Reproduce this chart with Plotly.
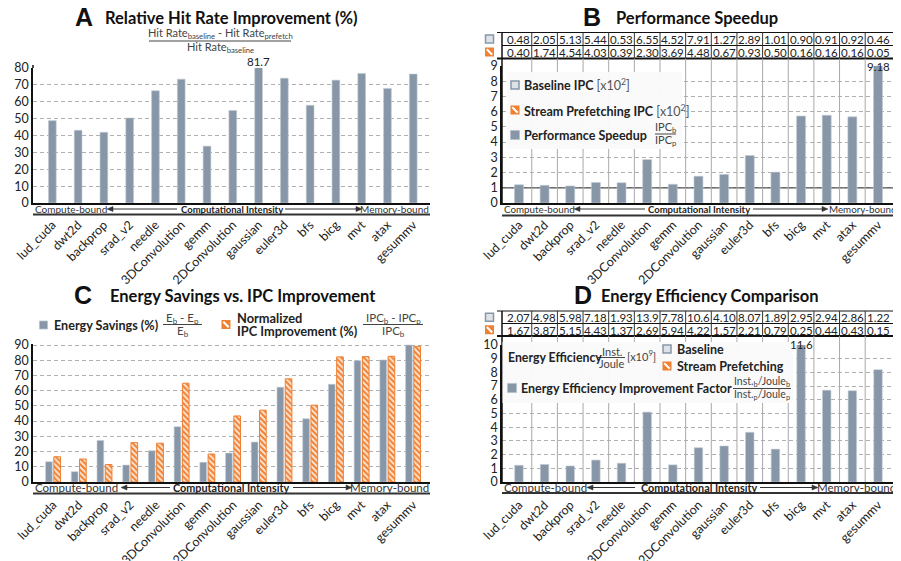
import plotly.graph_objects as go

OFF = 8                     # page body margin of the exported html
W, H = 901 - OFF, 561 - OFF
FONT = "Lato"
GRAY = "#8797a8"
ORANGE = "#ef7f31"
TXT = "#222222"

categories = ["lud_cuda", "dwt2d", "backprop", "srad_v2", "needle", "3DConvolution", "gemm",
              "2DConvolution", "gaussian", "euler3d", "bfs", "bicg", "mvt", "atax", "gesummv"]

hit_rate_improvement = [48.8, 43.1, 41.9, 50.4, 66.5, 73.4, 33.7, 54.8, 81.7, 74.0, 57.9, 72.8, 76.8, 67.9, 76.4]

baseline_ipc = [0.48, 2.05, 5.13, 5.44, 0.53, 6.55, 4.52, 7.91, 1.27, 2.89, 1.01, 0.90, 0.91, 0.92, 0.46]
prefetch_ipc = [0.40, 1.74, 4.54, 4.03, 0.39, 2.30, 3.69, 4.48, 0.67, 0.93, 0.50, 0.16, 0.16, 0.16, 0.05]
speedup = [1.20, 1.16, 1.12, 1.35, 1.33, 2.85, 1.23, 1.76, 1.88, 3.12, 2.03, 5.71, 5.76, 5.66, 9.18]

energy_savings = [13.3, 6.8, 27.3, 11.1, 20.5, 36.3, 12.9, 19.0, 26.2, 62.3, 41.5, 64.2, 79.7, 80.2, 90.0]
ipc_improvement = [16.6, 15.1, 11.5, 25.9, 25.5, 64.9, 18.4, 43.4, 47.2, 67.8, 50.5, 82.2, 82.4, 82.6, 89.1]

ee_baseline = [2.07, 4.98, 5.98, 7.18, 1.93, 13.9, 7.78, 10.6, 4.10, 8.07, 1.89, 2.95, 2.94, 2.86, 1.22]
ee_prefetch = [1.67, 3.87, 5.15, 4.43, 1.37, 2.69, 5.94, 4.22, 1.57, 2.21, 0.79, 0.25, 0.44, 0.43, 0.15]
ee_factor = [1.22, 1.28, 1.17, 1.60, 1.37, 5.10, 1.25, 2.50, 2.63, 3.63, 2.40, 11.6, 6.70, 6.66, 8.20]

idx = list(range(len(categories)))

def fx(x):
    return (x - OFF) / W

def fy(y):
    return 1 - (y - OFF) / H

def fmt(v):
    return f"{v:.1f}" if v >= 10 else f"{v:.2f}"

shapes = []
annotations = []

def ann(x, y, text, size=11, color=TXT, bold=False, xanchor="center", yanchor="middle",
        family=FONT, xref="paper"):
    annotations.append(dict(
        x=(fx(x) if xref == "paper" else x), y=fy(y), xref=xref, yref="paper",
        text=f"<b>{text}</b>" if bold else text, showarrow=False,
        font=dict(size=size, color=color, family=family),
        xanchor=xanchor, yanchor=yanchor, borderpad=0))

def line(x0, y0, x1, y1, color="#222", width=1, xref="paper", layer="above"):
    shapes.append(dict(type="line", xref=xref, yref="paper",
                       x0=(fx(x0) if xref == "paper" else x0), x1=(fx(x1) if xref == "paper" else x1),
                       y0=fy(y0), y1=fy(y1), line=dict(color=color, width=width), layer=layer))

def arrow(x_head, x_tail, y, color="#333"):
    d = 1 if x_tail > x_head else -1
    line(x_head + d * 4, y, x_tail, y, color, 1)
    path = (f"M {fx(x_head)},{fy(y)} L {fx(x_head + d * 6)},{fy(y - 2.6)} "
            f"L {fx(x_head + d * 6)},{fy(y + 2.6)} Z")
    shapes.append(dict(type="path", xref="paper", yref="paper", path=path,
                       fillcolor=color, line=dict(color=color, width=0.5), layer="above"))

def rect(x0, y0, x1, y1, fill, lcolor=None, lwidth=0, layer="above"):
    shapes.append(dict(type="rect", xref="paper", yref="paper", x0=fx(x0), x1=fx(x1),
                       y0=fy(y1), y1=fy(y0), fillcolor=fill, layer=layer,
                       line=dict(color=lcolor or fill, width=lwidth)))

def icon_base(cx, cy, s=8):
    rect(cx - s / 2, cy - s / 2, cx + s / 2, cy + s / 2, "#dfe3e8", GRAY, 1.5)

def icon_stream(cx, cy, s=9):
    rect(cx - s / 2, cy - s / 2, cx + s / 2, cy + s / 2, ORANGE)
    line(cx - s / 2 + 1.8, cy - s / 2 + 1.8, cx + s / 2 - 1.8, cy + s / 2 - 1.8, "white", 2)

def icon_gray(cx, cy, s=9):
    rect(cx - s / 2, cy - s / 2, cx + s / 2, cy + s / 2, GRAY, "#b7c0ca", 0.8)

def frac(cx, ytop, ybot, yline, num, den, half, size=11, color="#444"):
    ann(cx, ytop, num, size=size, color=color)
    ann(cx, ybot, den, size=size, color=color)
    line(cx - half, yline, cx + half, yline, color, 1)

def band(x0, x1, y_text, y_line, size, bsize, pos):
    # pos: (arrow1_head, arrow1_tail, center, arrow2_tail, arrow2_head)
    ann(x0 + 1, y_text, "Compute-bound", size=size, color="#333", xanchor="left")
    arrow(pos[0], pos[1], y_text)
    ann(pos[2], y_text, "Computational Intensity", size=bsize, bold=True, color=TXT)
    arrow(pos[4], pos[3], y_text)
    ann(x1, y_text, "Memory-bound", size=size, color="#333", xanchor="right")
    line(x0, y_line, x1, y_line, "#333", 2)

def data_label(xref, i, y, text, size=11.5):
    annotations.append(dict(x=i, y=fy(y), xref=xref, yref="paper", text=text, showarrow=False,
                            xanchor="center", yanchor="middle", borderpad=0,
                            font=dict(family=FONT, size=size, color=TXT)))

fig = go.Figure()

bar_line = dict(color="#c3cbd3", width=0.6)

# Panel A
fig.add_trace(go.Bar(x=idx, y=hit_rate_improvement, width=0.3, marker=dict(color=GRAY, line=bar_line),
                     xaxis="x", yaxis="y", showlegend=False))
# Panel B
fig.add_trace(go.Bar(x=idx, y=speedup, width=0.35, marker=dict(color=GRAY, line=bar_line),
                     xaxis="x2", yaxis="y2", showlegend=False))
# Panel C
fig.add_trace(go.Bar(x=idx, y=energy_savings, width=0.26, offset=-0.29,
                     marker=dict(color=GRAY, line=bar_line), xaxis="x3", yaxis="y3", showlegend=False))
fig.add_trace(go.Bar(x=idx, y=ipc_improvement, width=0.26, offset=0.03,
                     marker=dict(color="#fde6d3", line=dict(color=ORANGE, width=1),
                                 pattern=dict(shape="\\", fgcolor=ORANGE, bgcolor="#fde6d3",
                                              size=4, solidity=0.5)),
                     xaxis="x3", yaxis="y3", showlegend=False))
# Panel D
fig.add_trace(go.Bar(x=idx, y=ee_factor, width=0.33, marker=dict(color=GRAY, line=bar_line),
                     xaxis="x4", yaxis="y4", showlegend=False))

# geometry (page pixels)
LA, RA = 33, 430
LB, RB = 502, 897
T_A, T_B, B_AB = 68, 66, 203
T_CD, B_CD = 345, 482

xcommon = dict(tickvals=idx, ticktext=categories, tickangle=-45, showline=True, linecolor="#111",
               linewidth=1.5, ticks="", showgrid=False, zeroline=False, automargin=False,
               tickfont=dict(family=FONT, size=12.5, color=TXT))
ycommon = dict(showline=True, linecolor="#111", linewidth=1.5, ticks="", zeroline=False,
               showgrid=True, gridcolor="#b0b0b0", griddash="4px,3px", gridwidth=1, automargin=False,
               tickfont=dict(family=FONT, size=12.5, color=TXT))

layout = dict(
    template="none",
    width=W, height=H, autosize=False, margin=dict(l=0, r=0, t=0, b=0, pad=0),
    paper_bgcolor="white", plot_bgcolor="white", barmode="overlay", showlegend=False,
    font=dict(family=FONT, color=TXT),
    xaxis=dict(domain=[fx(LA), fx(RA)], range=[-0.75, 14.65], anchor="y", ticklabelstandoff=8, **xcommon),
    yaxis=dict(domain=[fy(B_AB), fy(T_A)], range=[0, 80], dtick=10, anchor="x", **ycommon),
    xaxis2=dict(domain=[fx(LB), fx(RB)], range=[-0.66, 14.74], anchor="y2", ticklabelstandoff=8, **xcommon),
    yaxis2=dict(domain=[fy(B_AB), fy(T_B)], range=[0, 9], dtick=1, anchor="x2", **ycommon),
    xaxis3=dict(domain=[fx(LA), fx(RA)], range=[-0.78, 14.66], anchor="y3", ticklabelstandoff=9, **xcommon),
    yaxis3=dict(domain=[fy(B_CD), fy(T_CD - 1.5)], range=[0, 91], dtick=10, anchor="x3", **ycommon),
    xaxis4=dict(domain=[fx(LB), fx(RB)], range=[-0.66, 14.74], anchor="y4", ticklabelstandoff=9, **xcommon),
    yaxis4=dict(domain=[fy(B_CD), fy(T_CD)], range=[0, 10], dtick=1, anchor="x4", **ycommon),
)

# ---------- Titles ----------
for letter, lx, title, tx, ty in [("A", 83.5, "Relative Hit Rate Improvement (%)", 231, 17),
                                  ("B", 592, "Performance Speedup", 697, 17),
                                  ("C", 83, "Energy Savings vs. IPC Improvement", 243, 295),
                                  ("D", 583, "Energy Efficiency Comparison", 710, 295)]:
    ann(lx, ty, letter, size=25, bold=True, family="Liberation Sans", color="#111")
    ann(tx, ty + 1, title, size=16.5, bold=True, color="#111")

# ---------- Panel A extras ----------
frac(220, 34, 48, 41, "Hit Rate<sub>baseline</sub> - Hit Rate<sub>prefetch</sub>",
     "Hit Rate<sub>baseline</sub>", 71, size=11)
line(LA, T_A, LA, 65, "#111", 1.5)
data_label("x", 8, 61.5, "81.7")
band(LA, RA, 209, 214.5, 10, 9.5, (107, 177, 231.5, 285, 362))

# ---------- Panel B extras ----------
def table(top, mid, bot, row1, row2, xref, ybottom_axis):
    line(LB - 5, top, RB, top, "#111", 1)
    line(LB, mid, RB, mid, "#111", 1)
    line(LB - 5, bot, RB, bot, "#111", 2)
    line(LB, top, LB, ybottom_axis, "#111", 1.5)
    for i in range(len(categories) - 1):
        line(i + 0.5, top, i + 0.5, bot, "#333", 1, xref=xref)
        line(i + 0.5, bot, i + 0.5, ybottom_axis, "#a8a8a8", 1, xref=xref, layer="above")
    for i in range(len(categories)):
        data_label(xref, i, (top + mid) / 2 + 0.5, fmt(row1[i]))
        data_label(xref, i, (mid + bot) / 2 + 0.5, fmt(row2[i]))
    icon_base(489.5, (top + mid) / 2)
    icon_stream(489.5, (mid + bot) / 2)

table(32.5, 45.5, 58.5, baseline_ipc, prefetch_ipc, "x2", B_AB)
# solid reference line at speedup = 1
shapes.append(dict(type="line", xref="x2", yref="y2", x0=-0.66, x1=14.74, y0=1, y1=1,
                   line=dict(color="#555", width=1.2), layer="between"))
# legend box B
rect(507, 72, 682, 149, "rgba(250,250,250,0.97)")
icon_base(515, 85)
ann(523, 85, "<b>Baseline IPC</b> <span style='color:#555'>[x10<sup>2</sup>]</span>", size=12.5, xanchor="left")
icon_stream(515, 110)
ann(523, 110, "<b>Stream Prefetching IPC</b> <span style='color:#555'>[x10<sup>2</sup>]</span>", size=12.5, xanchor="left")
icon_gray(515, 135)
ann(523, 135, "Performance Speedup", size=12.5, bold=True, xanchor="left")
frac(665.5, 128, 141, 134, "IPC<sub>b</sub>", "IPC<sub>p</sub>", 10.5, size=11)
data_label("x2", 14, 66.5, "9.18")
band(LB, RB, 209, 215.5, 9.8, 9.5, (574, 645, 699, 753, 828))

# ---------- Panel C extras ----------
rect(39.5, 321, 47.5, 329, GRAY, "#b7c0ca", 0.8)
ann(53, 325, "Energy Savings (%)", size=12.6, bold=True, xanchor="left")
frac(182.5, 318, 331, 324.5, "E<sub>b</sub> - E<sub>p</sub>", "E<sub>b</sub>", 19.5, size=11.5)
icon_stream(226, 324.5)
ann(236, 317.5, "Normalized", size=12.8, bold=True, xanchor="left")
ann(236, 331, "IPC Improvement (%)", size=12.8, bold=True, xanchor="left")
frac(393, 318, 331, 324.5, "IPC<sub>b</sub> - IPC<sub>p</sub>", "IPC<sub>b</sub>", 30, size=11.5)
band(LA, RA, 487.5, 493.5, 11.5, 10.8, (121, 170, 230.5, 293, 352))

# ---------- Panel D extras ----------
table(311, 323.5, 336, ee_baseline, ee_prefetch, "x4", B_CD)
rect(502.5, 342, 793, 403, "rgba(250,250,250,0.97)")
ann(507, 357, "Energy Efficiency", size=12.3, bold=True, xanchor="left")
frac(611.5, 351, 363, 357.5, "Inst.", "Joule", 13.5, size=11)
ann(626, 355.5, "[x10<sup>9</sup>]", size=11, color="#444", xanchor="left")
icon_base(667, 349)
ann(676, 349, "Baseline", size=12.5, bold=True, xanchor="left")
icon_stream(667, 366)
ann(676, 366, "Stream Prefetching", size=12.5, bold=True, xanchor="left")
icon_gray(512, 388)
ann(520, 388, "Energy Efficiency Improvement Factor", size=12.5, bold=True, xanchor="left")
frac(762, 382, 395, 388.5, "Inst.<sub>b</sub>/Joule<sub>b</sub>", "Inst.<sub>p</sub>/Joule<sub>p</sub>", 29, size=10.5)
data_label("x4", 11, 344, "11.6")
band(LB, RB, 487.5, 493, 11.5, 10.8, (587, 635, 698.5, 760, 818))

layout["shapes"] = shapes
layout["annotations"] = annotations
fig.update_layout(**layout)
fig.write_html("out.html")
